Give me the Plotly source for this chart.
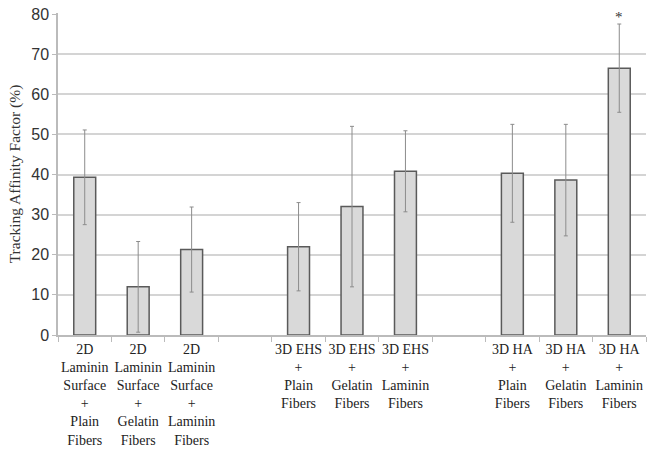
import plotly.graph_objects as go

categories = [
    "2D<br>Laminin<br>Surface<br>+<br>Plain<br>Fibers",
    "2D<br>Laminin<br>Surface<br>+<br>Gelatin<br>Fibers",
    "2D<br>Laminin<br>Surface<br>+<br>Laminin<br>Fibers",
    " ",
    "3D EHS<br>+<br>Plain<br>Fibers",
    "3D EHS<br>+<br>Gelatin<br>Fibers",
    "3D EHS<br>+<br>Laminin<br>Fibers",
    "  ",
    "3D HA<br>+<br>Plain<br>Fibers",
    "3D HA<br>+<br>Gelatin<br>Fibers",
    "3D HA<br>+<br>Laminin<br>Fibers",
]
values = [39.3, 12.0, 21.3, None, 22.0, 32.0, 40.8, None, 40.3, 38.6, 66.5]
errors = [11.8, 11.3, 10.6, None, 11.0, 20.0, 10.1, None, 12.2, 13.9, 11.0]
y_ticks = [0, 10, 20, 30, 40, 50, 60, 70, 80]
star_index = 10

SERIF = "Liberation Serif"
SANS = "Liberation Sans"

fig = go.Figure()
fig.add_trace(go.Bar(
    x=categories, y=values,
    marker=dict(color="#d9d9d9", line=dict(color="#5a5a5a", width=1.5)),
    error_y=dict(type="data", array=errors, visible=True,
                 color="#8c8c8c", thickness=1, width=2),
    width=0.41,
))

fig.add_annotation(
    x=categories[star_index], y=values[star_index] + errors[star_index],
    text="*", showarrow=False, yshift=7,
    font=dict(family=SERIF, size=15, color="#333"),
)

fig.update_layout(
    width=654, height=450,
    margin=dict(l=58, r=8, t=13, b=115, autoexpand=False),
    plot_bgcolor="white", paper_bgcolor="white",
    showlegend=False,
)
fig.update_xaxes(
    type="category", tickson="boundaries", ticks="outside", ticklen=5,
    tickcolor="#bbbbbb", showline=True, linecolor="#bbbbbb", linewidth=1.5,
    showgrid=False, automargin=False,
    tickfont=dict(family=SERIF, size=14, color="#222"),
    tickangle=0,
)
fig.update_yaxes(
    range=[0, 80.25], tickvals=y_ticks, ticks="outside", ticklen=4,
    tickcolor="#bbbbbb", showline=True, linecolor="#bbbbbb", linewidth=1.5,
    showgrid=True, gridcolor="#d4d4d4", gridwidth=1.5, zeroline=False,
    automargin=False,
    tickfont=dict(family=SANS, size=16, color="#333"),
    title=dict(text="Tracking Affinity Factor (%)", standoff=7,
               font=dict(family=SERIF, size=15.5, color="#333")),
)

fig.write_html("out.html",
               config={"displayModeBar": False},
               post_script="document.body.style.margin='0';")
